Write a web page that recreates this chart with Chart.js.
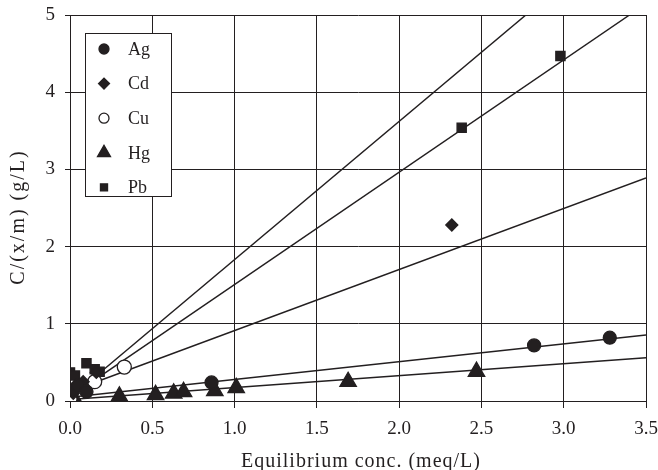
<!DOCTYPE html>
<html lang="en">
<head>
    <meta charset="UTF-8">
    <title>Equilibrium conc. chart</title>
    <script src="https://cdn.jsdelivr.net/npm/chart.js"></script>
    <style>
        html, body { margin: 0; padding: 0; background: #fff; }
        #wrap { width: 658px; height: 470px; }
    </style>
</head>
<body>
    <div id="wrap"><canvas id="chart" width="658" height="470"></canvas></div>

    <script>
        // measured points
        const agX = [0.02, 0.05, 0.10, 0.86, 2.82, 3.28];
        const agY = [0.15, 0.20, 0.12, 0.24, 0.72, 0.82];
        const cdX = [0.02, 0.08, 0.16, 2.32];
        const cdY = [0.10, 0.25, 0.37, 2.28];
        const cuX = [0.00, 0.15, 0.33];
        const cuY = [0.03, 0.25, 0.44];
        const hgX = [0.00, 0.02, 0.30, 0.52, 0.63, 0.69, 0.88, 1.01, 1.69, 2.47];
        const hgY = [0.00, 0.05, 0.06, 0.08, 0.10, 0.12, 0.13, 0.17, 0.25, 0.38];
        const pbX = [0.00, 0.03, 0.10, 0.15, 0.18, 2.38, 2.98];
        const pbY = [0.37, 0.33, 0.49, 0.41, 0.38, 3.54, 4.47];

        // fitted lines (start / end)
        const fitSteepX = [0.10, 2.77];
        const fitSteepY = [0.22, 5.00];
        const fitPbX = [0.10, 3.40];
        const fitPbY = [0.20, 5.00];
        const fitCuX = [0.10, 3.50];
        const fitCuY = [0.20, 2.89];
        const fitAgX = [0.00, 3.50];
        const fitAgY = [0.05, 0.855];
        const fitHgX = [0.00, 3.50];
        const fitHgY = [0.02, 0.56];

        const xTicks = [0, 0.5, 1, 1.5, 2, 2.5, 3, 3.5];
        const yTicks = [0, 1, 2, 3, 4, 5];
        const xTitle = 'Equilibrium conc. (meq/L)';
        const yTitle = 'C/(x/m) (g/L)';

        const ink = '#231f20';
        const serif = "'Liberation Serif', 'DejaVu Serif', serif";

        const pts = (xs, ys) => xs.map((x, i) => ({ x: x, y: ys[i] }));

        function lineSet(xs, ys) {
            return {
                data: pts(xs, ys),
                showLine: true,
                borderColor: ink,
                borderWidth: 1.5,
                pointRadius: 0,
                fill: false,
                order: 2
            };
        }

        const series = [
            { label: 'Ag', x: agX, y: agY, style: 'circle', r: 6.5, fill: ink, lr: 5 },
            { label: 'Cd', x: cdX, y: cdY, style: 'rectRot', r: 6, fill: ink, lr: 5.5 },
            { label: 'Cu', x: cuX, y: cuY, style: 'circle', r: 7, fill: '#ffffff', lr: 5 },
            { label: 'Hg', x: hgX, y: hgY, style: 'triangle', r: 9.5, fill: ink, lr: 7.5 },
            { label: 'Pb', x: pbX, y: pbY, style: 'rect', r: 6.5, fill: ink, lr: 5 }
        ];

        const datasets = [
            lineSet(fitSteepX, fitSteepY),
            lineSet(fitPbX, fitPbY),
            lineSet(fitCuX, fitCuY),
            lineSet(fitAgX, fitAgY),
            lineSet(fitHgX, fitHgY)
        ];
        series.forEach(s => {
            datasets.push({
                label: s.label,
                data: pts(s.x, s.y),
                pointStyle: s.style,
                pointRadius: s.r,
                pointHoverRadius: s.r,
                backgroundColor: s.fill,
                borderColor: ink,
                borderWidth: 1.3,
                showLine: false,
                order: 1
            });
        });

        // legend inside the plot area + axis titles (drawn with a bit of letter spacing)
        const extras = {
            id: 'extras',
            afterDatasetsDraw(chart) {
                const ctx = chart.ctx;
                const left = 85, top = 33, w = 86, h = 163;
                ctx.save();
                ctx.fillStyle = '#fff';
                ctx.fillRect(left, top, w, h);
                ctx.strokeStyle = ink;
                ctx.lineWidth = 1;
                ctx.strokeRect(left + 0.5, top + 0.5, w, h);
                ctx.font = '18px ' + serif;
                ctx.textBaseline = 'middle';
                series.forEach((s, i) => {
                    const y = top + 16 + i * 34.6;
                    ctx.fillStyle = s.fill;
                    ctx.strokeStyle = ink;
                    ctx.lineWidth = 1.3;
                    Chart.helpers.drawPoint(ctx, { pointStyle: s.style, radius: s.lr, rotation: 0, borderWidth: 1.3 }, 104, y);
                    ctx.fillStyle = ink;
                    ctx.fillText(s.label, 128, y + 1);
                });
                ctx.restore();
            },
            afterDraw(chart) {
                const ctx = chart.ctx;
                ctx.save();
                ctx.fillStyle = ink;
                ctx.font = '20px ' + serif;
                ctx.textAlign = 'center';
                ctx.textBaseline = 'middle';
                ctx.letterSpacing = '1px';
                ctx.fillText(xTitle, 361, 462);
                ctx.translate(19, 217);
                ctx.rotate(-Math.PI / 2);
                ctx.letterSpacing = '2px';
                ctx.fillText(yTitle, 0, 0);
                ctx.restore();
            }
        };

        new Chart(document.getElementById('chart').getContext('2d'), {
            type: 'scatter',
            data: { datasets: datasets },
            plugins: [extras],
            options: {
                responsive: false,
                animation: false,
                layout: { padding: { top: 15, right: 12, left: 0, bottom: 0 } },
                plugins: { legend: { display: false }, tooltip: { enabled: false } },
                scales: {
                    x: {
                        type: 'linear',
                        min: 0, max: 3.5,
                        afterBuildTicks: axis => { axis.ticks = xTicks.map(v => ({ value: v })); },
                        afterFit: axis => {
                            axis.height = 69;
                            axis.paddingLeft = 0;
                            axis.paddingRight = 0;
                        },
                        ticks: {
                            color: ink,
                            font: { family: serif, size: 19 },
                            padding: 10,
                            maxRotation: 0,
                            callback: v => v.toFixed(1)
                        },
                        grid: { color: ink, lineWidth: 1, tickLength: 7 },
                        border: { color: ink, width: 1 }
                    },
                    y: {
                        type: 'linear',
                        min: 0, max: 5,
                        afterBuildTicks: axis => { axis.ticks = yTicks.map(v => ({ value: v })); },
                        afterFit: axis => {
                            axis.width = 70;
                            axis.paddingTop = 0;
                            axis.paddingBottom = 0;
                        },
                        ticks: {
                            color: ink,
                            font: { family: serif, size: 19 },
                            padding: 10
                        },
                        grid: { color: ink, lineWidth: 1, tickLength: 5 },
                        border: { color: ink, width: 1 }
                    }
                }
            }
        });
    </script>
</body>
</html>
